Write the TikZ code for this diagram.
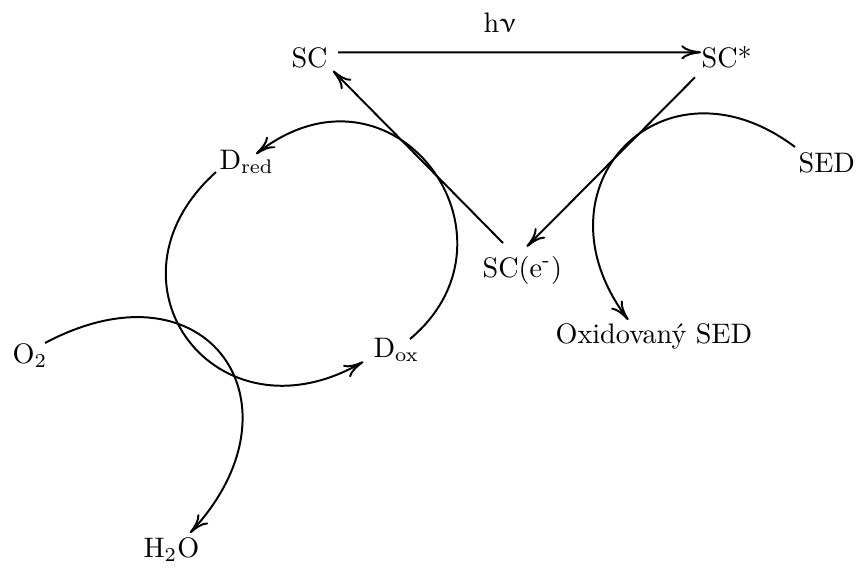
\documentclass[tikz,border=0pt]{standalone}
\usepackage{upgreek}
\usetikzlibrary{arrows.meta,calc}
\tikzset{
  lbl/.style={inner sep=0pt, anchor=base west},
  conn/.style={line width=0.7pt, -{To[length=7pt,width=5pt]}},
}
\begin{document}
\begin{tikzpicture}[x=0.3546pt, y=0.3546pt]
\useasboundingbox (0,0) rectangle (856,567);
% labels
\node[lbl] (hv)   at (483,535) {h$\upnu$};
\node[lbl] (SC)   at (291,500) {SC};
\node[lbl] (SCs)  at (701,499.5) {SC*};
\node[lbl] (SCe)  at (482,290) {SC(e\textsuperscript{-})};
\node[lbl] (SED)  at (798,395) {SED};
\node[lbl] (Ox)   at (555,224) {Oxidovaný SED};
\node[lbl] (Dred) at (219,398) {D\textsubscript{red}};
\node[lbl] (Dox)  at (373,210) {D\textsubscript{ox}};
\node[lbl] (O2)   at (12,204)  {O\textsubscript{2}};
\node[lbl] (H2O)  at (143,10)  {H\textsubscript{2}O};
% straight connectors
\draw[conn] ($(SC.base east)+(10,14.7)$) -- ($(SCs.base west)+(0,15.2)$);
\draw[conn] ($(SCs.base west)+(-6,-9.8)$) -- ($(SCe.base west)+(44.7,30.3)$);
\draw[conn] ($(SCe.base west)+(21,34)$) -- ($(SC.base east)+(4.7,-3.7)$);
% D cycle
\draw[conn] ($(Dox.base west)+(37,18)$) to[out=40, in=38, out distance=56.7pt, in distance=62pt] ($(Dred.base west)+(37,15)$);
\draw[conn] ($(Dred.base west)+(-3,-3)$) to[out=222, in=210, out distance=58.5pt, in distance=60.3pt] ($(Dox.base west)+(-9.7,-4.7)$);
% O2 -> H2O
\draw[conn] ($(O2.base west)+(33,20)$) to[out=28, in=47, out distance=65.6pt, in distance=62pt] ($(H2O.base west)+(47,24)$);
% SED -> oxidized SED
\draw[conn] ($(SED.base west)+(-3,25)$) to[out=143, in=127, out distance=58.5pt, in distance=59pt] ($(Ox.base west)+(73.3,23)$);
\end{tikzpicture}
\end{document}
